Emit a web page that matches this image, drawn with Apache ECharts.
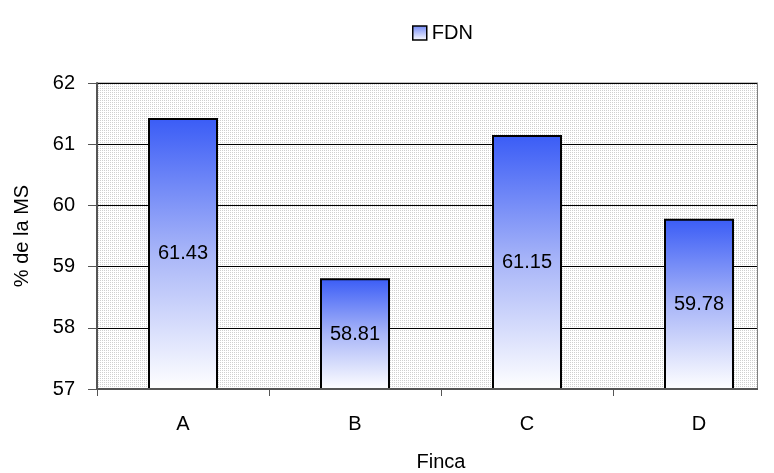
<!DOCTYPE html>
<html>
<head>
<meta charset="utf-8">
<script src="https://cdn.jsdelivr.net/npm/echarts@6/dist/echarts.min.js"></script>
<style>
  html, body { margin: 0; padding: 0; background: #fff; }
  #chart { width: 774px; height: 473px; }
</style>
</head>
<body>
<div id="chart"></div>
<script>
// FDN content (% of dry matter) per farm
const categories = ['A', 'B', 'C', 'D'];
const fdnValues = [61.43, 58.81, 61.15, 59.78];
const seriesName = 'FDN';
const yTicks = { min: 57, max: 62, interval: 1 };

// Dotted plot-area fill
function dotPattern() {
  const c = document.createElement('canvas');
  c.width = 4; c.height = 4;
  const g = c.getContext('2d');
  g.fillStyle = '#ffffff';
  g.fillRect(0, 0, 4, 4);
  g.fillStyle = '#cfcfcf';
  g.fillRect(0, 0, 1, 1);
  g.fillRect(2, 0, 1, 1);
  g.fillRect(0, 2, 1, 1);
  g.fillRect(2, 2, 1, 1);
  return c;
}

const barGradient = new echarts.graphic.LinearGradient(0, 0, 0, 1, [
  { offset: 0, color: '#3a5cf6' },
  { offset: 0.5, color: '#a9b6f8' },
  { offset: 1, color: '#ffffff' }
]);

const font = 'Liberation Sans, Arial, sans-serif';
const fs = 20;
const W = 774, H = 473;
const plot = { left: 97, top: 83, bottom: 84, frameRight: 757 };

const chart = echarts.init(document.getElementById('chart'));
chart.setOption({
  animation: false,
  textStyle: { fontFamily: font },
  legend: {
    top: 18,
    left: 407,
    itemWidth: 14,
    itemHeight: 14,
    itemGap: 8,
    textStyle: { fontSize: fs, color: '#000', fontFamily: font },
    data: [{ name: seriesName, icon: 'rect',
      itemStyle: { color: new echarts.graphic.LinearGradient(0, 0, 0, 1, [
        { offset: 0, color: '#6f86f5' }, { offset: 1, color: '#ffffff' }]),
        borderColor: '#000', borderWidth: 1.5 } }]
  },
  grid: {
    left: plot.left, right: -11, top: plot.top, bottom: plot.bottom,
    outerBoundsMode: 'none',
    containLabel: false,
    show: true,
    backgroundColor: { image: dotPattern(), repeat: 'repeat' },
    borderColor: '#808080',
    borderWidth: 1
  },
  xAxis: {
    type: 'category',
    data: categories,
    name: 'Finca',
    nameLocation: 'middle',
    nameGap: 63,
    nameTextStyle: { fontSize: fs, color: '#000', fontFamily: font },
    axisLine: { lineStyle: { color: '#555', width: 2 } },
    axisTick: { show: true, length: 7, lineStyle: { color: '#555' } },
    axisLabel: { fontSize: fs, color: '#000', margin: 25, fontFamily: font }
  },
  yAxis: {
    type: 'value',
    min: yTicks.min,
    max: yTicks.max,
    interval: yTicks.interval,
    name: '% de la MS',
    nameLocation: 'middle',
    nameGap: 65,
    nameRotate: 90,
    nameTextStyle: { fontSize: fs, color: '#000', fontFamily: font },
    axisLine: { show: true, lineStyle: { color: '#555', width: 2 } },
    axisTick: { show: true, length: 9, lineStyle: { color: '#555' } },
    axisLabel: { fontSize: fs, color: '#000', margin: 22, fontFamily: font },
    splitLine: { show: true, lineStyle: { color: '#000', width: 1 } }
  },
  // Plot frame ends short of the last category band on the right
  graphic: [
    { type: 'rect', z: 100, silent: true,
      shape: { x: plot.frameRight + 1, y: plot.top - 5, width: W - plot.frameRight, height: H - plot.bottom - plot.top + 20 },
      style: { fill: '#ffffff' } },
    { type: 'line', z: 101, silent: true,
      shape: { x1: plot.frameRight + 0.5, y1: plot.top, x2: plot.frameRight + 0.5, y2: H - plot.bottom },
      style: { stroke: '#808080', lineWidth: 1 } },
    { type: 'line', z: 101, silent: true,
      shape: { x1: plot.left, y1: H - plot.bottom, x2: plot.frameRight + 1, y2: H - plot.bottom },
      style: { stroke: '#555', lineWidth: 2 } }
  ],
  series: [{
    name: seriesName,
    type: 'bar',
    data: fdnValues,
    barWidth: 70,
    itemStyle: { color: barGradient, borderColor: '#000', borderWidth: 2 },
    label: {
      show: true,
      position: 'inside',
      color: '#000',
      fontSize: fs,
      fontFamily: font,
      formatter: p => p.value.toFixed(2)
    }
  }]
});
</script>
</body>
</html>
